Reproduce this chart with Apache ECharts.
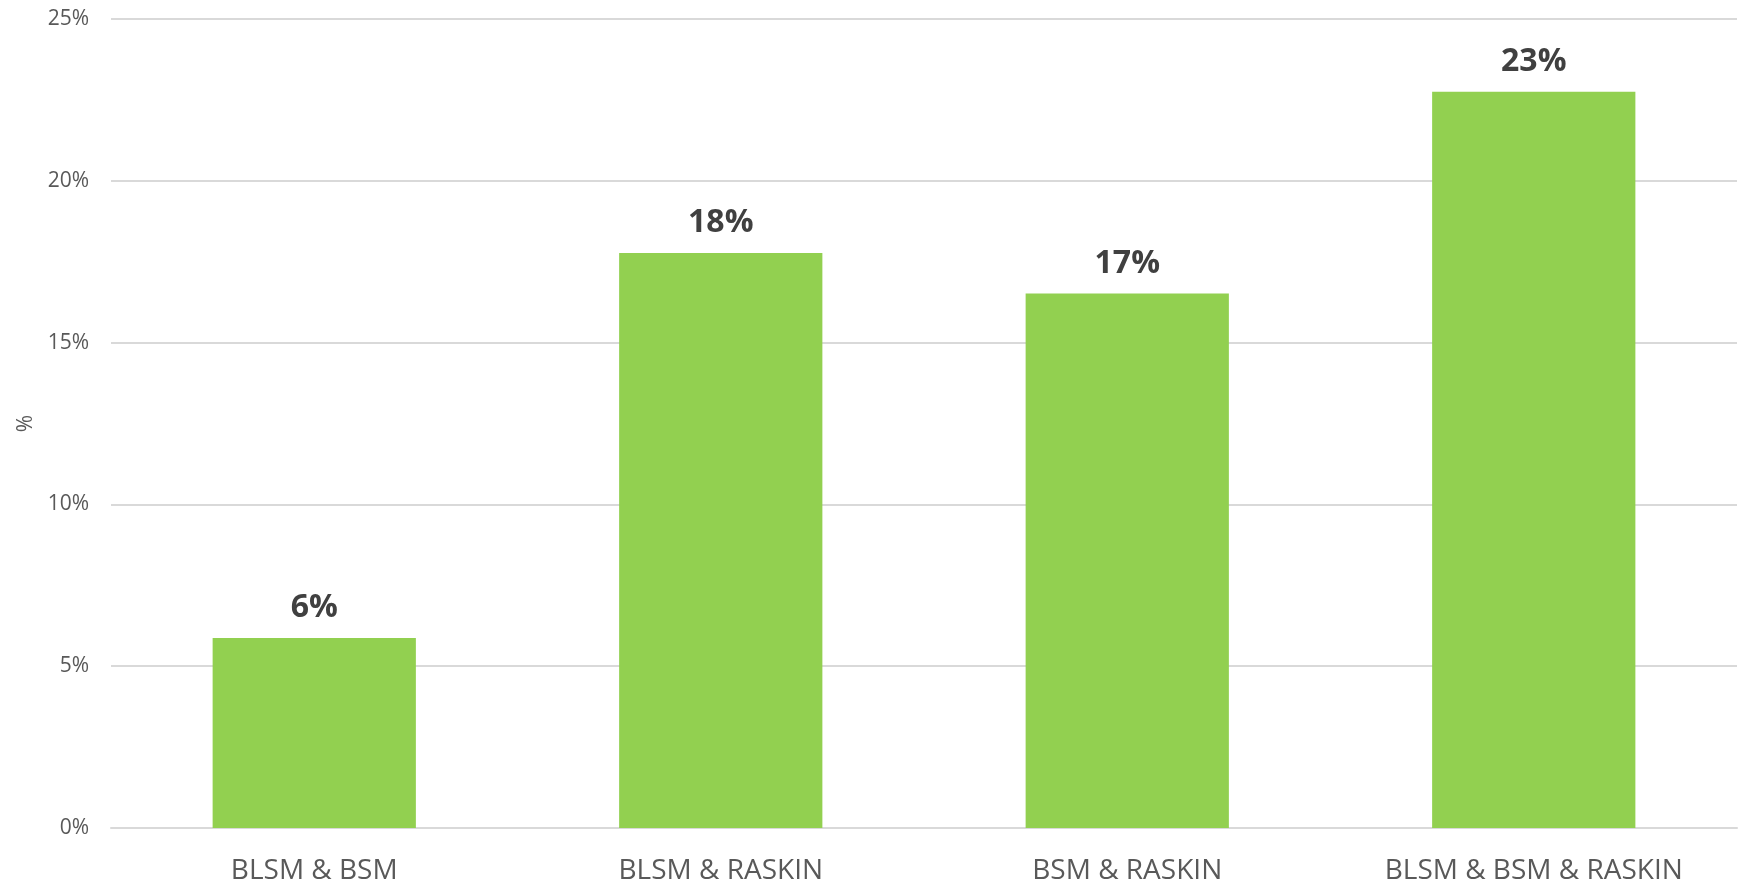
<!DOCTYPE html>
<html>
<head>
<meta charset="utf-8">
<script src="https://cdn.jsdelivr.net/npm/echarts@6/dist/echarts.min.js"></script>
<style>
    html, body { margin: 0; padding: 0; background: #fff; }
    #main { width: 1739px; height: 885px; }
</style>
</head>
<body>
<div id="main"></div>
<script>
// 数据
var categories = ['BLSM & BSM', 'BLSM & RASKIN', 'BSM & RASKIN', 'BLSM & BSM & RASKIN'];
var values = [5.87, 17.77, 16.52, 22.75];
var yTicks = [0, 5, 10, 15, 20, 25];

var myChart = echarts.init(document.getElementById('main'));
var option = {
    animation: false,
    textStyle: { fontFamily: 'Open Sans' },
    grid: {
        left: 111,
        right: 2,
        top: 19,
        bottom: 52
    },
    xAxis: {
        type: 'category',
        data: categories,
        axisLine: { lineStyle: { color: '#d9d9d9', width: 2 } },
        axisTick: { show: false },
        axisLabel: {
            color: '#595959',
            fontSize: 28,
            margin: 29
        }
    },
    yAxis: {
        type: 'value',
        min: yTicks[0],
        max: yTicks[yTicks.length - 1],
        interval: 5,
        name: '%',
        nameLocation: 'middle',
        nameGap: 73,
        nameRotate: 90,
        nameTextStyle: { color: '#595959', fontSize: 21 },
        axisLine: { show: false },
        axisTick: { show: false },
        splitLine: { lineStyle: { color: '#d9d9d9', width: 2 } },
        axisLabel: {
            color: '#595959',
            fontSize: 21,
            margin: 22,
            formatter: '{value}%'
        }
    },
    series: [{
        type: 'bar',
        data: values,
        barWidth: '50%',
        itemStyle: { color: '#92d050' },
        label: {
            show: true,
            position: 'top',
            distance: 14,
            color: '#404040',
            fontSize: 32,
            fontWeight: 'bold',
            formatter: function(p) { return Math.round(p.value) + '%'; }
        }
    }]
};
myChart.setOption(option);
</script>
</body>
</html>
